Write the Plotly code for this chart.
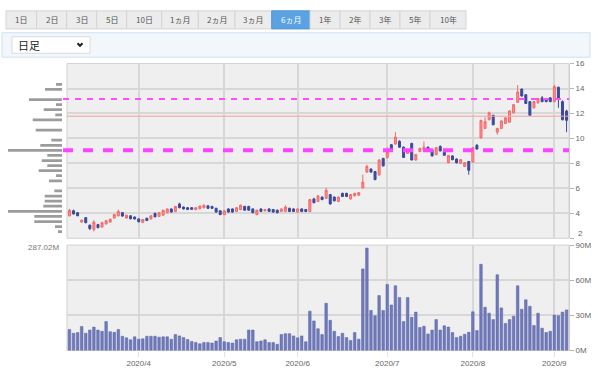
import plotly.graph_objects as go

# ---------------- data ----------------
trading_days = {
    3: [6, 9, 10, 11, 12, 13, 16, 17, 18, 19, 23, 24, 25, 26, 27, 30, 31],
    4: [1, 2, 3, 6, 7, 8, 9, 10, 13, 14, 15, 16, 17, 20, 21, 22, 23, 24, 27, 28, 30],
    5: [1, 7, 8, 11, 12, 13, 14, 15, 18, 19, 20, 21, 22, 25, 26, 27, 28, 29],
    6: [1, 2, 3, 4, 5, 8, 9, 10, 11, 12, 15, 16, 17, 18, 19, 22, 23, 24, 25, 26, 29, 30],
    7: [1, 2, 3, 6, 7, 8, 9, 10, 13, 14, 15, 16, 17, 20, 21, 22, 27, 28, 29, 30, 31],
    8: [3, 4, 5, 6, 7, 11, 12, 13, 14, 17, 18, 19, 20, 21, 24, 25, 26, 27, 28, 31],
    9: [1, 2, 3, 4],
}
dates = [f"2020-{m:02d}-{d:02d}" for m, ds in trading_days.items() for d in ds]

month_tick_dates = ["2020-04-01", "2020-05-01", "2020-06-01", "2020-07-01", "2020-08-03", "2020-09-01"]
month_tick_labels = ["2020/4", "2020/5", "2020/6", "2020/7", "2020/8", "2020/9"]

opens = [
    3.80, 4.20, 4.05, 3.30, 3.65, 3.05, 2.70, 3.10, 2.90, 3.15,
    3.30, 3.62, 3.80, 4.05, 3.62, 3.80, 3.70, 3.55, 3.28, 3.60,
    3.55, 4.00, 3.75, 3.85, 4.05, 4.35, 4.15, 4.75, 4.50, 4.45,
    4.45, 4.30, 4.37, 4.45, 4.60, 4.55, 4.40, 4.20, 3.90, 4.35,
    4.35, 4.15, 4.30, 4.55, 4.55, 4.35, 3.90, 4.35, 4.20, 4.35,
    4.30, 4.25, 4.15, 4.15, 4.40, 4.35, 4.10, 4.35, 4.30, 4.15,
    5.15, 4.95, 5.30, 5.20, 5.50, 5.30, 4.95, 5.60, 5.60, 5.15,
    5.40, 5.45, 6.03, 7.30, 7.55, 7.35, 7.08, 8.40, 8.45, 9.50,
    9.55, 9.77, 9.30, 8.80, 9.60, 8.27, 8.95, 9.05, 9.30, 9.10,
    8.70, 9.35, 9.00, 8.06, 8.60, 8.35, 8.00, 7.75, 8.15, 8.11,
    9.45, 10.04, 10.80, 11.50, 11.85, 10.50, 10.80, 11.20, 11.30, 12.05,
    12.89, 13.95, 13.50, 12.95, 12.45, 12.85, 13.25, 13.10, 13.25, 12.95,
    14.10, 12.95, 12.20,
]
highs = [
    4.35, 4.30, 4.10, 3.50, 3.70, 3.10, 3.45, 3.15, 3.32, 3.48,
    3.58, 3.95, 4.30, 4.10, 3.88, 3.85, 3.75, 3.60, 3.55, 3.65,
    3.85, 4.05, 4.08, 4.28, 4.38, 4.40, 4.58, 4.85, 4.55, 4.50,
    4.50, 4.50, 4.62, 4.70, 4.65, 4.60, 4.45, 4.25, 4.25, 4.40,
    4.40, 4.50, 4.70, 4.60, 4.60, 4.40, 4.28, 4.40, 4.32, 4.40,
    4.35, 4.30, 4.38, 4.65, 4.45, 4.40, 4.38, 4.40, 4.35, 5.15,
    5.25, 5.45, 5.35, 6.05, 5.55, 5.35, 5.35, 5.65, 5.65, 5.55,
    5.62, 5.70, 7.10, 7.90, 7.60, 7.40, 8.35, 8.45, 9.30, 9.55,
    10.50, 9.85, 9.35, 9.15, 9.65, 8.75, 9.25, 9.75, 9.35, 9.15,
    9.30, 9.45, 9.05, 8.68, 8.65, 8.40, 8.35, 8.10, 8.20, 9.30,
    9.55, 11.50, 11.70, 12.15, 11.90, 10.85, 11.45, 11.70, 12.25, 12.75,
    14.28, 14.00, 13.55, 13.00, 13.00, 13.25, 13.40, 13.15, 13.30, 14.30,
    14.15, 13.05, 12.30,
]
lows = [
    3.75, 3.90, 3.78, 3.25, 3.20, 2.65, 2.55, 2.80, 2.85, 3.10,
    3.25, 3.58, 3.75, 3.72, 3.58, 3.52, 3.50, 3.28, 3.22, 3.38,
    3.50, 3.68, 3.70, 3.82, 4.00, 4.05, 4.10, 4.40, 4.30, 4.28,
    4.28, 4.25, 4.32, 4.40, 4.35, 4.35, 4.05, 3.85, 3.85, 4.05,
    4.05, 4.10, 4.25, 4.20, 4.20, 4.00, 3.85, 4.10, 4.15, 4.12,
    4.05, 4.00, 4.10, 4.10, 4.10, 4.10, 4.05, 4.10, 4.10, 4.10,
    4.80, 4.90, 5.05, 5.15, 4.70, 4.95, 4.90, 5.30, 5.30, 5.10,
    5.35, 5.40, 6.00, 7.25, 7.25, 6.65, 7.00, 7.75, 8.40, 9.00,
    9.50, 9.25, 8.45, 8.75, 8.25, 8.22, 8.90, 9.00, 9.00, 8.55,
    8.65, 8.95, 8.60, 8.00, 8.25, 8.00, 7.95, 7.70, 7.10, 8.05,
    9.10, 10.00, 10.75, 11.45, 11.05, 10.30, 10.75, 11.15, 11.25, 12.00,
    12.85, 13.35, 12.75, 11.80, 12.40, 12.80, 12.90, 12.90, 12.90, 12.90,
    12.45, 11.45, 10.50,
]
closes = [
    4.24, 3.95, 3.80, 3.45, 3.25, 2.78, 3.30, 2.85, 3.25, 3.40,
    3.52, 3.90, 4.15, 3.78, 3.85, 3.56, 3.55, 3.32, 3.50, 3.42,
    3.80, 3.72, 4.05, 4.25, 4.35, 4.10, 4.55, 4.45, 4.35, 4.30,
    4.32, 4.45, 4.58, 4.65, 4.40, 4.40, 4.10, 3.90, 4.20, 4.10,
    4.10, 4.45, 4.65, 4.25, 4.25, 4.05, 4.25, 4.15, 4.30, 4.15,
    4.10, 4.05, 4.35, 4.50, 4.15, 4.15, 4.35, 4.15, 4.15, 5.10,
    4.85, 5.40, 5.10, 5.85, 4.75, 5.00, 5.30, 5.35, 5.35, 5.50,
    5.60, 5.65, 6.50, 7.75, 7.30, 6.70, 8.27, 7.80, 8.90, 9.05,
    10.10, 9.30, 8.48, 9.10, 8.27, 8.70, 9.20, 9.30, 9.05, 8.60,
    9.25, 9.00, 8.65, 8.63, 8.30, 8.05, 8.30, 8.05, 7.45, 9.26,
    9.15, 11.44, 11.35, 12.05, 11.10, 10.80, 11.40, 11.65, 12.20, 12.70,
    13.72, 13.40, 12.80, 11.85, 12.95, 13.20, 12.95, 12.95, 12.95, 14.15,
    13.20, 11.50, 11.45,
]
volume_m = [
    18.0, 14.7, 15.3, 20.5, 14.7, 17.5, 20.0, 17.5, 16.4, 24.7, 16.1, 15.5, 18.0, 12.2, 10.8, 9.2, 11.7,
    9.7, 10.0, 12.2, 12.2, 12.2, 11.4, 11.7, 11.7, 9.7, 13.6, 12.5, 11.1, 9.4, 7.8, 6.9, 5.8, 6.9, 6.9, 6.4, 8.1, 11.1,
    7.5, 6.9, 6.4, 9.2, 9.7, 9.7, 17.5, 17.5, 7.5, 8.1, 9.2, 6.9, 6.9, 5.3, 13.6, 14.4, 14.4, 12.5,
    10.8, 12.5, 7.5, 33.6, 25.3, 18.6, 13.6, 40.3, 25.8, 16.4, 11.9, 14.7, 11.1, 8.6, 15.3, 9.7, 69.7, 87.5, 34.2, 29.7, 46.9, 34.2,
    56.4, 38.9, 55.3, 45.3, 24.7, 45.3, 28.3, 32.8, 19.7, 20.8, 14.2, 17.5, 26.4, 17.5, 21.1, 20.0, 15.3, 11.1, 12.2, 13.9, 15.6,
    33.1, 17.0, 73.6, 36.9, 31.9, 26.4, 64.7, 36.4, 23.1, 26.4, 29.2, 55.3, 35.3, 43.3, 37.8, 21.4, 31.9, 19.1, 15.3, 16.4,
    30.3, 29.7, 32.8, 34.7,
]

# volume-by-price profile (left side)
profile_price = [2.53, 2.94, 3.34, 3.75, 4.16, 4.57, 4.97, 5.38, 5.79, 6.19,
                 6.60, 7.01, 7.41, 7.82, 8.23, 8.64, 9.04, 9.45, 9.86, 10.26,
                 10.67, 11.08, 11.48, 11.89, 12.30, 12.71, 13.11, 13.52, 13.93, 14.33]
profile_volume = [4, 7, 27.7, 27.7, 54, 18.7, 17.3, 17.3, 7.7, 0,
                  13, 6, 23.3, 14.7, 20.3, 14.7, 54, 21.7, 10.7, 0,
                  26.3, 0, 29.3, 6.7, 18.3, 6, 33, 0, 17, 6]
profile_label = "287.02M"

line_upper = 13.15   # thin magenta dashed
line_lower = 9.05    # thick magenta dashed
line_last = 11.78    # thin red line

price_ticks = [2, 4, 6, 8, 10, 12, 14, 16]
price_tick_labels = ["", "4", "6", "8", "10", "12", "14", "16"]
price_bottom_label = "2"
volume_ticks = [0, 30, 60, 90]
volume_tick_labels = ["0M", "30M", "60M", "90M"]

period_buttons = ["1日", "2日", "3日", "5日", "10日", "1ヵ月", "2ヵ月", "3ヵ月", "6ヵ月",
                  "1年", "2年", "3年", "5年", "10年"]
selected_button = "6ヵ月"
dropdown_text = "日足"

# ---------------- layout helpers ----------------
W, H = 600, 377
def X(p):
    return p / W
def Y(p):
    return 1 - p / H

PL, PR = 67, 569
MAIN_T, MAIN_B = 61, 240
VOL_T, VOL_B = 247, 355

TICKFONT = dict(family="Liberation Sans, Arial, sans-serif", size=8, color="#666")
JP = "Noto Sans CJK JP"

fig = go.Figure()

fig.add_trace(go.Candlestick(
    x=dates, open=opens, high=highs, low=lows, close=closes,
    xaxis="x", yaxis="y",
    increasing=dict(line=dict(color="#f46a6a", width=1), fillcolor="#ff8c8c"),
    decreasing=dict(line=dict(color="#3b4a9c", width=1), fillcolor="#3b4a9c"),
    whiskerwidth=0, showlegend=False, hoverinfo="skip",
))
fig.add_trace(go.Bar(
    x=dates, y=volume_m, xaxis="x2", yaxis="y2",
    marker=dict(color="#6f79bb", line=dict(color="#5a64a4", width=0.5)),
    showlegend=False, hoverinfo="skip",
))
fig.add_trace(go.Bar(
    x=profile_volume, y=profile_price, orientation="h", xaxis="x3", yaxis="y3",
    width=0.22, marker=dict(color="#9c9c9c", line=dict(width=0)),
    showlegend=False, hoverinfo="skip",
))

grid = "#d7d7d7"
fig.update_layout(
    width=W, height=H, autosize=False,
    margin=dict(l=0, r=0, t=0, b=0),
    paper_bgcolor="white", plot_bgcolor="rgba(0,0,0,0)",
    bargap=0.36,
    xaxis=dict(domain=[X(PL), X(PR)], anchor="y", type="category",
               range=[-0.6, len(dates) - 0.4], rangeslider=dict(visible=False),
               tickvals=month_tick_dates, ticktext=month_tick_labels,
               showticklabels=False, ticks="", showgrid=True, gridcolor=grid, gridwidth=1.5,
               showline=False, zeroline=False, fixedrange=True),
    yaxis=dict(domain=[Y(MAIN_B), Y(MAIN_T)], anchor="x", side="right",
               range=[2, 16], tickvals=price_ticks, ticktext=price_tick_labels,
               showgrid=True, gridcolor=grid, gridwidth=1.5,
               ticks="outside", ticklen=4, tickcolor="#b5b5b5", tickfont=TICKFONT,
               showline=True, linecolor="#cfcfcf", linewidth=1, zeroline=False),
    xaxis2=dict(domain=[X(PL), X(PR)], anchor="y2", type="category",
                range=[-0.6, len(dates) - 0.4],
                tickvals=month_tick_dates, ticktext=month_tick_labels,
                ticks="outside", ticklen=5, tickcolor="#e2e2e2", tickfont=TICKFONT,
                showgrid=True, gridcolor=grid, gridwidth=1.5, showline=False, zeroline=False),
    yaxis2=dict(domain=[Y(VOL_B), Y(VOL_T)], anchor="x2", side="right",
                range=[0, 90], tickvals=volume_ticks, ticktext=volume_tick_labels,
                showgrid=True, gridcolor=grid, gridwidth=1.5,
                ticks="outside", ticklen=4, tickcolor="#b5b5b5", tickfont=TICKFONT,
                showline=True, linecolor="#cfcfcf", linewidth=1, zeroline=False),
    xaxis3=dict(domain=[X(5), X(62)], anchor="y3", range=[57, 0], visible=False),
    yaxis3=dict(domain=[Y(MAIN_B), Y(MAIN_T)], anchor="x3", range=[2, 16], visible=False),
)

shapes = []
annotations = []

# plot backgrounds
for top, bot in [(MAIN_T, MAIN_B), (VOL_T, VOL_B)]:
    shapes.append(dict(type="rect", xref="paper", yref="paper", layer="below",
                       x0=X(PL), x1=X(PR), y0=Y(bot), y1=Y(top),
                       fillcolor="#efefef", line=dict(color="#d2d2d2", width=1)))

# reference lines
shapes.append(dict(type="line", xref="paper", yref="y", x0=X(63), x1=X(PR), y0=line_upper, y1=line_upper,
                   line=dict(color="#ff4cff", width=2, dash="6px,6px"), layer="above"))
shapes.append(dict(type="line", xref="paper", yref="y", x0=X(63), x1=X(PR), y0=line_lower, y1=line_lower,
                   line=dict(color="#ff44ff", width=4, dash="10px,10px"), layer="above"))
shapes.append(dict(type="line", xref="paper", yref="y", x0=X(PL), x1=X(PR), y0=line_last, y1=line_last,
                   line=dict(color="#f2a0a0", width=1), layer="above"))

annotations.append(dict(text=profile_label, xref="paper", yref="paper", x=X(61), y=Y(249.5),
                        xanchor="right", yanchor="middle", showarrow=False,
                        font=dict(family="Liberation Sans, Arial, sans-serif", size=8, color="#777")))
# bottom price label, nudged up so it does not collide with the "90M" label
annotations.append(dict(text=price_bottom_label, xref="paper", yref="paper", x=X(575.5), y=Y(241.5),
                        xanchor="left", yanchor="bottom", showarrow=False,
                        font=TICKFONT))

# period buttons
edges = [6, 36.7, 66.7, 96.7, 126.7, 161.7, 198.3, 235, 271.7, 310, 340, 370, 400, 430, 466]
for i, lab in enumerate(period_buttons):
    x0, x1 = edges[i], edges[i + 1]
    sel = lab == selected_button
    shapes.append(dict(type="rect", xref="paper", yref="paper", x0=X(x0), x1=X(x1), y0=Y(25.5), y1=Y(7),
                       fillcolor="#5aa2e2" if sel else "#ececec",
                       line=dict(color="#4d95d6" if sel else "#d4d4d4", width=1)))
    annotations.append(dict(text=lab, xref="paper", yref="paper", x=X((x0 + x1) / 2), y=Y(16.3),
                            xanchor="center", yanchor="middle", showarrow=False,
                            font=dict(family=JP, size=8, color="white" if sel else "#555")))

# dropdown panel
shapes.append(dict(type="rect", xref="paper", yref="paper", x0=X(2), x1=X(590), y0=Y(54.5), y1=Y(29.5),
                   fillcolor="#f2f7fc", line=dict(color="#cfe0f1", width=1)))
shapes.append(dict(type="rect", xref="paper", yref="paper", x0=X(12), x1=X(90), y0=Y(50.5), y1=Y(33.5),
                   fillcolor="white", line=dict(color="#dadada", width=1)))
annotations.append(dict(text=dropdown_text, xref="paper", yref="paper", x=X(15.5), y=Y(42.2),
                        xanchor="left", yanchor="middle", showarrow=False,
                        font=dict(family=JP, size=11, color="#222")))
shapes.append(dict(type="path", xref="paper", yref="paper",
                   path=f"M {X(77.5)} {Y(40.2)} L {X(80)} {Y(42.8)} L {X(82.5)} {Y(40.2)}",
                   line=dict(color="#222", width=2)))

fig.update_layout(shapes=shapes, annotations=annotations)

fig.write_html("out.html", config={"displayModeBar": False},
               post_script="document.body.style.margin='0';document.body.style.padding='0';")
